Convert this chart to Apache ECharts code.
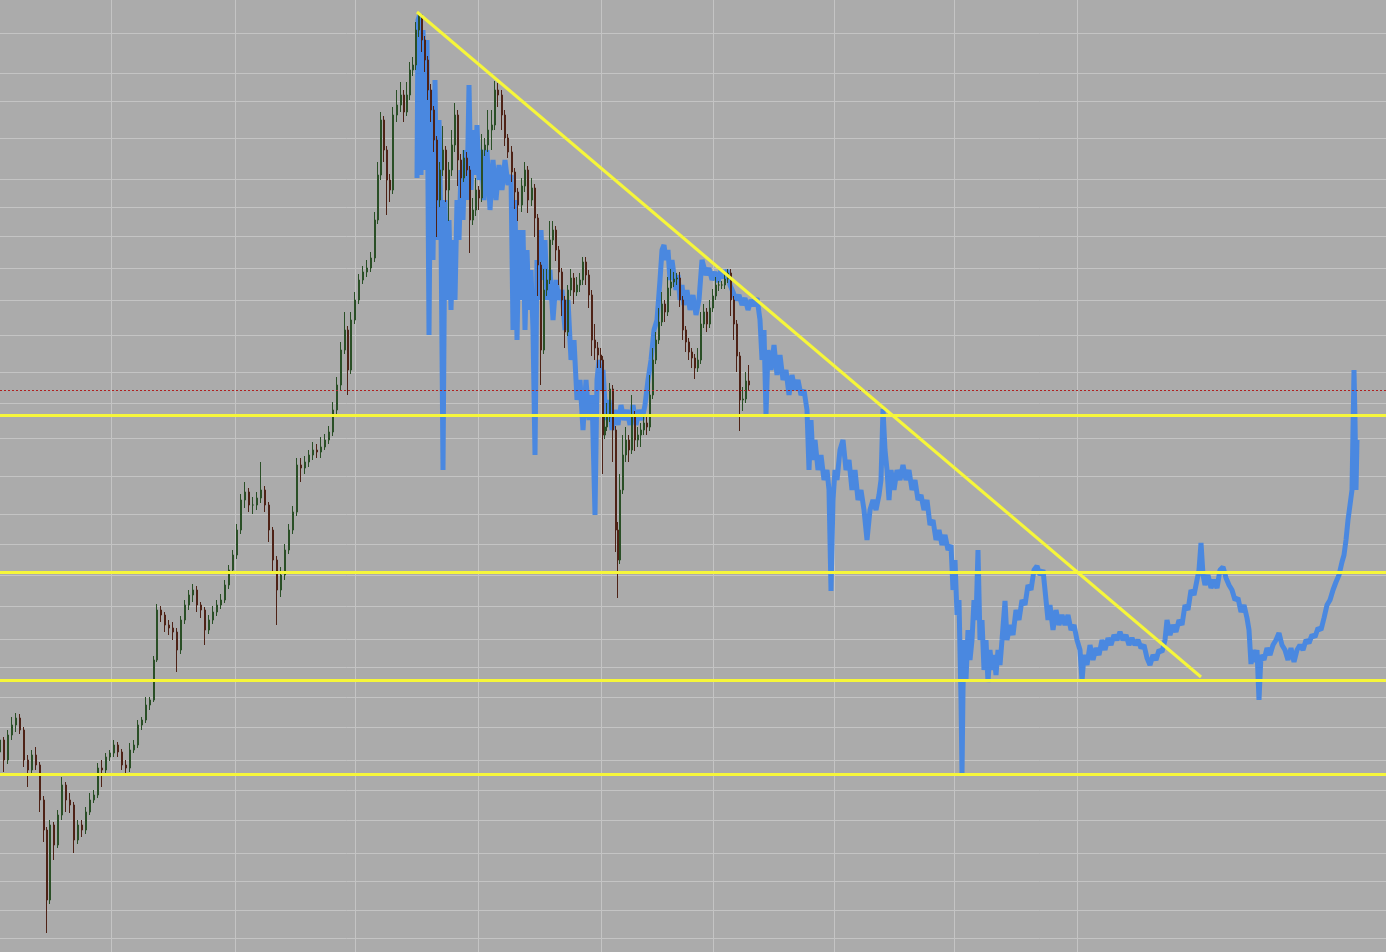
<!DOCTYPE html>
<html>
<head>
<meta charset="utf-8">
<script src="https://cdn.jsdelivr.net/npm/echarts@6/dist/echarts.min.js"></script>
<style>
html,body{margin:0;padding:0;background:#ababab;overflow:hidden}
#chart{width:1386px;height:952px}
</style>
</head>
<body>
<div id="chart"></div>
<script>
// ---- candle (OHLC) data: day index and prices ----
const candleDays = [
  0,4,8,12,16,20,24,28,32,36,
  40,44,47,50,54,58,62,66,70,74,
  78,82,86,90,94,98,102,106,110,114,
  118,122,126,130,134,138,142,146,150,154,
  157,161,165,169,173,177,181,185,189,193,
  197,201,205,209,213,217,221,225,229,233,
  237,241,245,249,253,257,261,265,269,273,
  277,281,285,289,293,297,301,305,309,313,
  317,321,325,329,333,337,341,345,348,351,
  355,359,363,367,371,375,378,381,384,387,
  390,393,397,401,404,407,410,413,416,419,
  422,425,428,431,434,437,440,443,446,449,
  452,455,458,461,464,467,470,473,476,479,
  482,485,488,492,495,498,502,505,508,512,
  515,518,522,525,528,532,535,538,541,544,
  547,550,553,556,559,562,565,568,571,574,
  577,580,583,586,589,592,595,598,601,603,
  605,607,610,613,616,618,620,623,626,629,
  632,635,638,641,644,647,650,653,656,659,
  662,665,668,671,674,677,680,683,686,689,
  692,695,698,701,704,707,710,713,716,719,
  722,725,728,731,734,737,740,743,746,749
];
const candleOpen = [
  200,212,192,217,227,234,222,192,182,197,
  187,152,122,52,127,107,137,167,152,147,
  112,127,122,140,152,157,184,182,195,199,
  207,200,187,184,202,207,227,232,247,252,
  292,342,337,327,324,320,302,332,347,357,
  362,347,342,322,332,340,347,352,367,382,
  397,422,452,460,447,447,454,462,447,422,
  392,362,377,402,422,440,487,484,490,497,
  502,500,505,512,520,542,567,602,622,582,
  632,652,672,680,684,694,732,777,832,802,
  772,762,837,847,857,840,857,882,887,922,
  937,912,892,862,842,812,752,782,802,762,
  782,807,837,792,774,794,782,732,742,762,
  754,802,807,822,827,862,857,837,814,800,
  780,760,747,766,782,752,764,734,687,602,
  662,672,712,722,702,680,652,620,662,674,
  660,667,672,690,677,657,612,604,597,592,
  517,525,535,563,522,422,392,462,497,512,
  502,537,512,517,522,529,525,557,592,612,
  630,648,640,664,670,673,674,652,622,610,
  600,594,584,592,628,640,628,644,656,667,
  667,667,673,679,652,628,596,552,553,571
];
const candleClose = [
  212,192,217,227,234,222,192,182,197,187,
  152,122,52,127,107,137,167,152,147,112,
  127,122,140,152,157,184,182,195,199,207,
  200,187,184,202,207,227,232,247,252,292,
  342,337,327,324,320,302,332,347,357,362,
  347,342,322,332,340,347,352,367,382,397,
  422,452,460,447,447,454,462,447,422,392,
  362,377,402,422,440,487,484,490,497,502,
  500,505,512,520,542,567,602,622,582,632,
  652,672,680,684,694,732,777,832,802,772,
  762,837,847,857,840,857,882,887,922,937,
  912,892,862,842,812,752,782,802,762,782,
  807,837,792,774,794,782,732,742,762,754,
  802,807,822,827,862,857,837,814,800,780,
  760,747,766,782,752,764,734,687,602,662,
  672,712,722,702,680,652,620,662,674,660,
  667,672,690,677,657,612,604,597,592,517,
  525,535,563,522,422,392,462,497,512,502,
  537,512,517,522,529,525,557,592,612,630,
  648,640,664,670,673,674,652,622,610,600,
  594,584,592,628,640,628,644,656,667,667,
  667,673,679,652,628,596,552,553,571,567
];
const candleLow = [
  165,180,188,212,220,218,185,165,178,182,
  140,110,19,48,92,104,132,140,139,99,
  108,115,118,137,149,154,165,178,191,195,
  195,182,179,180,199,204,222,229,242,250,
  290,330,320,317,312,280,298,328,342,350,
  340,334,307,318,328,336,343,349,363,378,
  393,418,444,440,438,442,449,440,410,380,
  327,355,372,398,418,436,470,478,485,492,
  494,494,502,508,516,538,562,598,557,578,
  628,648,668,675,680,690,728,772,790,737,
  750,758,830,840,830,836,852,876,882,915,
  900,880,852,830,800,715,745,776,750,731,
  776,800,766,754,770,776,699,727,736,742,
  750,796,800,802,822,845,822,806,794,770,
  743,731,740,760,739,746,715,656,567,598,
  656,668,707,691,667,636,604,616,656,648,
  656,660,667,667,644,596,592,584,584,478,
  513,521,530,490,400,354,388,458,490,490,
  498,501,505,505,517,517,521,553,588,608,
  626,630,636,656,665,667,645,612,600,592,
  584,573,580,588,624,620,624,640,652,661,
  663,663,669,636,612,580,521,541,549,561
];
const candleHigh = [
  235,215,222,235,239,238,225,197,202,205,
  190,156,125,132,130,142,175,170,159,150,
  132,132,145,159,162,189,192,199,202,212,
  210,203,192,209,212,232,235,255,255,296,
  348,346,340,332,330,324,336,352,362,368,
  366,350,345,337,346,352,358,372,387,402,
  428,458,470,464,455,460,490,466,450,425,
  396,385,408,428,446,494,494,496,502,510,
  508,515,518,526,550,575,610,640,626,640,
  660,678,686,692,700,740,790,840,836,806,
  778,845,862,870,862,870,890,895,930,940,
  938,916,896,868,846,816,790,826,806,790,
  822,849,842,798,802,800,786,754,774,766,
  818,814,842,842,871,869,862,842,818,806,
  784,764,774,790,786,774,768,738,690,683,
  683,731,731,726,706,684,656,667,683,679,
  675,679,695,695,682,662,628,610,604,596,
  537,549,569,567,526,430,478,517,525,517,
  557,541,525,529,537,537,577,604,620,644,
  660,652,675,683,680,679,680,656,626,614,
  604,598,604,640,648,644,652,663,675,671,
  671,679,683,683,656,632,600,565,580,587
];

// ---- blue close line (later data) ----
const blueDays = [
  417,418,420,421,423,425,427,429,431,433,
  435,437,439,441,443,445,447,449,451,453,
  455,457,459,461,463,465,467,469,471,473,
  475,477,479,481,484,487,490,493,496,499,
  502,505,508,511,513,515,517,519,521,523,
  525,527,529,531,533,535,537,539,541,543,
  545,547,550,553,556,559,562,565,568,571,
  574,577,580,583,586,589,592,595,597,599,
  601,603,606,609,612,615,618,621,624,627,
  630,633,636,639,642,645,648,651,654,657,
  660,662,664,666,668,670,672,674,676,678,
  680,682,684,687,690,693,696,699,702,704,
  706,709,712,715,718,721,724,727,730,733,
  736,739,742,745,748,751,754,757,760,762,
  764,766,768,771,774,777,780,783,786,789,
  792,795,798,801,804,807,809,811,813,815,
  818,821,824,827,829,831,833,835,837,840,
  843,846,849,852,855,858,861,864,867,870,
  873,876,879,881,883,885,887,889,891,894,
  897,900,903,906,909,912,915,918,921,924,
  927,930,933,936,939,942,945,948,951,953,
  955,957,959,960,961,962,963,964,966,968,
  970,972,974,976,978,980,982,984,986,988,
  990,992,994,996,998,1000,1002,1005,1007,1010,
  1013,1016,1019,1022,1025,1028,1031,1034,1037,1040,
  1043,1046,1048,1050,1053,1056,1059,1062,1065,1068,
  1071,1074,1077,1080,1082,1084,1087,1090,1093,1096,
  1099,1102,1105,1108,1111,1114,1117,1120,1123,1126,
  1129,1132,1135,1138,1141,1144,1147,1150,1153,1156,
  1159,1162,1165,1167,1170,1173,1176,1179,1182,1185,
  1188,1191,1194,1197,1199,1201,1203,1205,1208,1211,
  1214,1217,1220,1223,1226,1229,1232,1235,1238,1241,
  1244,1247,1249,1251,1253,1255,1257,1259,1261,1264,
  1267,1270,1273,1276,1279,1282,1285,1288,1291,1294,
  1297,1300,1303,1306,1309,1312,1315,1318,1321,1324,
  1327,1330,1333,1336,1339,1342,1344,1346,1348,1350,
  1352,1354,1355,1356,1357
];
const bluePrices = [
  774,932,938,777,922,782,912,617,862,692,
  872,712,832,722,482,752,652,732,642,712,
  652,752,712,782,732,802,752,867,762,822,
  777,827,772,802,752,802,742,792,752,787,
  762,792,767,777,622,752,612,722,652,722,
  622,702,642,682,622,497,692,652,722,672,
  712,652,682,632,672,652,662,622,652,592,
  612,552,572,522,572,532,557,437,572,592,
  562,582,532,552,522,542,527,547,532,542,
  527,547,527,542,532,547,572,592,622,632,
  672,702,707,692,702,672,692,677,662,677,
  652,667,647,662,642,657,637,652,692,694,
  677,684,672,680,670,682,674,682,667,660,
  652,657,647,654,642,652,646,654,632,592,
  622,537,602,582,607,577,597,572,582,557,
  577,562,572,557,562,542,482,532,492,512,
  482,497,472,482,462,361,452,482,472,502,
  512,482,492,462,482,452,462,442,412,442,
  452,442,457,472,543,502,482,452,482,462,
  482,472,487,472,482,462,472,452,457,442,
  452,427,432,412,422,407,417,402,407,362,
  392,337,352,302,252,177,262,312,272,322,
  292,312,352,332,402,312,332,282,312,270,
  302,282,297,277,302,287,312,351,312,327,
  317,342,332,352,347,367,362,382,386,377,
  382,352,332,347,322,342,327,337,327,337,
  322,327,312,302,271,297,287,307,292,304,
  297,312,302,314,307,317,312,320,312,317,
  307,314,307,312,304,307,294,287,297,292,
  302,300,312,332,317,327,320,332,327,347,
  342,362,357,372,382,409,377,367,377,364,
  372,364,382,385,374,367,362,352,354,340,
  347,334,322,288,302,290,302,252,297,292,
  304,297,307,312,319,307,302,292,304,290,
  302,307,302,312,309,317,315,324,322,334,
  347,352,362,370,377,390,397,412,432,432,
  462,582,532,462,512
];

// ---- grid ticks, support levels, trend line ----
const gridLevels = [919,879,851,814,773,745,716,684,652,617,580,549,514,476,438,408,377,346,313,285,255,225,192,162,132,99,71,42,14];
const gridDays = [111,235,355,478,601,713,834,954,1077];
const supportLevels = [537,380,272,178];
const markerLevel = 562;
const trendStart = [417,940];
const trendEnd = [1201,275];

const candleData = candleDays.map((d,i)=>[d,candleOpen[i],candleClose[i],candleLow[i],candleHigh[i]]);
const blueData = blueDays.map((d,i)=>[d,bluePrices[i]]);

const chart = echarts.init(document.getElementById('chart'), null, {renderer:'canvas'});
chart.setOption({
  animation:false,
  backgroundColor:'#ababab',
  grid:{left:0,right:0,top:0,bottom:0,containLabel:false},
  xAxis:{type:'value',min:0,max:1386,show:false,splitLine:{show:false}},
  yAxis:{type:'value',min:0,max:952,show:false,splitLine:{show:false}},
  series:[
    {
      name:'grid',type:'line',data:[],z:1,silent:true,
      markLine:{
        silent:true,z:1,symbol:['none','none'],label:{show:false},
        lineStyle:{color:'#c4c4c4',width:1,type:'solid'},
        emphasis:{disabled:true},
        data:[...gridLevels.map(v=>({yAxis:v})),...gridDays.map(v=>({xAxis:v}))]
      }
    },
    {
      name:'close',type:'line',data:blueData,z:2,showSymbol:false,symbol:'none',
      lineStyle:{color:'#4a88e0',width:5},silent:true
    },
    {
      name:'ohlc',type:'candlestick',data:candleData,z:3,barWidth:2,
      encode:{x:0,y:[1,2,3,4]},silent:true,
      itemStyle:{color:'#3f8a38',color0:'#c23c1e',borderColor:'#2a4f26',borderColor0:'#4e2216',borderWidth:1}
    },
    {
      name:'levels',type:'line',data:[],z:5,silent:true,
      markLine:{
        silent:true,z:5,symbol:['none','none'],label:{show:false},
        lineStyle:{color:'#f6f63a',width:3,type:'solid'},
        emphasis:{disabled:true},
        data:[
          ...supportLevels.map(v=>({yAxis:v})),
          {yAxis:markerLevel,lineStyle:{color:'#b02020',width:1,type:[2,2]}},
          [{coord:trendStart},{coord:trendEnd}]
        ]
      }
    }
  ]
});
</script>
</body>
</html>
